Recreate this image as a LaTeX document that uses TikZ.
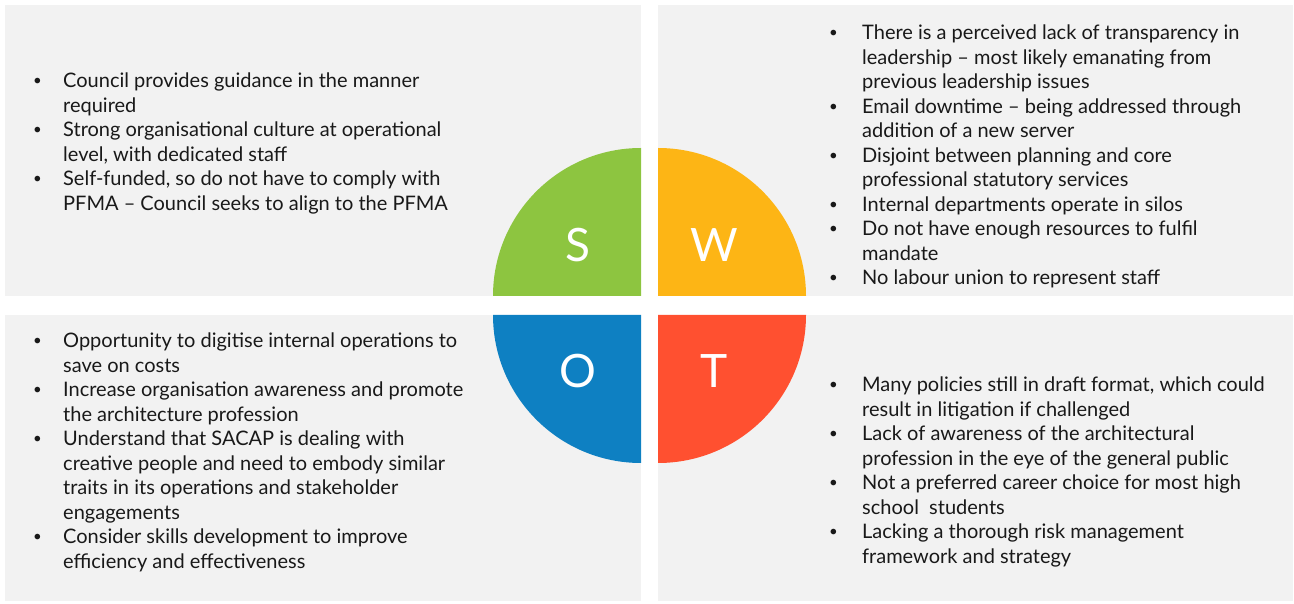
\documentclass[tikz,border=0pt]{standalone}
\usepackage{fontspec}
\setmainfont{Lato}
\usetikzlibrary{positioning}
\definecolor{panelgrey}{HTML}{F2F2F2}
\definecolor{sgreen}{HTML}{8DC540}
\definecolor{wyellow}{HTML}{FDB515}
\definecolor{oblue}{HTML}{0E80C2}
\definecolor{tred}{HTML}{FF5030}
\newcommand{\swotlist}[2]{\begin{tabular}[t]{@{}p{#1}@{}l@{}}#2\end{tabular}}
\newcommand{\sbul}{\raisebox{2.2pt}{\fontsize{15}{15}\selectfont\textbullet}}

\begin{document}
\begin{tikzpicture}[x=1pt,y=1pt,
  panel/.style={fill=panelgrey},
  letter/.style={text=white,font=\fontsize{46}{46}\selectfont},
  list/.style={anchor=base west,inner sep=0pt,text=black!90,
    font=\fontsize{20}{24.5}\selectfont}]
\useasboundingbox (0,0) rectangle (1294,603);
\fill[panel] (5,307) rectangle (641,598);
\fill[panel] (658,307) rectangle (1293,598);
\fill[panel] (5,2) rectangle (641,288);
\fill[panel] (658,2) rectangle (1293,288);

\fill[sgreen] (641,307) -- ++(-148,0) arc[start angle=180,end angle=90,radius=148] -- cycle;
\fill[wyellow] (658,307) -- ++(148,0) arc[start angle=0,end angle=90,radius=148] -- cycle;
\fill[oblue] (641,288) -- ++(-148,0) arc[start angle=180,end angle=270,radius=148] -- cycle;
\fill[tred] (658,288) -- ++(148,0) arc[start angle=0,end angle=-90,radius=148] -- cycle;

\node[letter] (s) at (578,358) {S};
\node[letter] (w) at (714,358) {W};
\node[letter] (o) at (578,232) {O};
\node[letter] (t) at (714,232) {T};

\node[list] (sText) at (33,515) {\swotlist{30pt}{%
\sbul & Council provides guidance in the manner\\
 & required\\
\sbul & Strong organisational culture at operational\\
 & level, with dedicated staff\\
\sbul & Self-funded, so do not have to comply with\\
 & PFMA – Council seeks to align to the PFMA}};

\node[list] (wText) at (829,563) {\swotlist{33pt}{%
\sbul & There is a perceived lack of transparency in\\
 & leadership – most likely emanating from\\
 & previous leadership issues\\
\sbul & Email downtime – being addressed through\\
 & addition of a new server\\
\sbul & Disjoint between planning and core\\
 & professional statutory services\\
\sbul & Internal departments operate in silos\\
\sbul & Do not have enough resources to fulfil\\
 & mandate\\
\sbul & No labour union to represent staff}};

\node[list] (oText) at (33,255) {\swotlist{30pt}{%
\sbul & Opportunity to digitise internal operations to\\
 & save on costs\\
\sbul & Increase organisation awareness and promote\\
 & the architecture profession\\
\sbul & Understand that SACAP is dealing with\\
 & creative people and need to embody similar\\
 & traits in its operations and stakeholder\\
 & engagements\\
\sbul & Consider skills development to improve\\
 & efficiency and effectiveness}};

\node[list] (tText) at (829,211) {\swotlist{33pt}{%
\sbul & Many policies still in draft format, which could\\
 & result in litigation if challenged\\
\sbul & Lack of awareness of the architectural\\
 & profession in the eye of the general public\\
\sbul & Not a preferred career choice for most high\\
 & school\ \ students\\
\sbul & Lacking a thorough risk management\\
 & framework and strategy}};
\end{tikzpicture}
\end{document}
